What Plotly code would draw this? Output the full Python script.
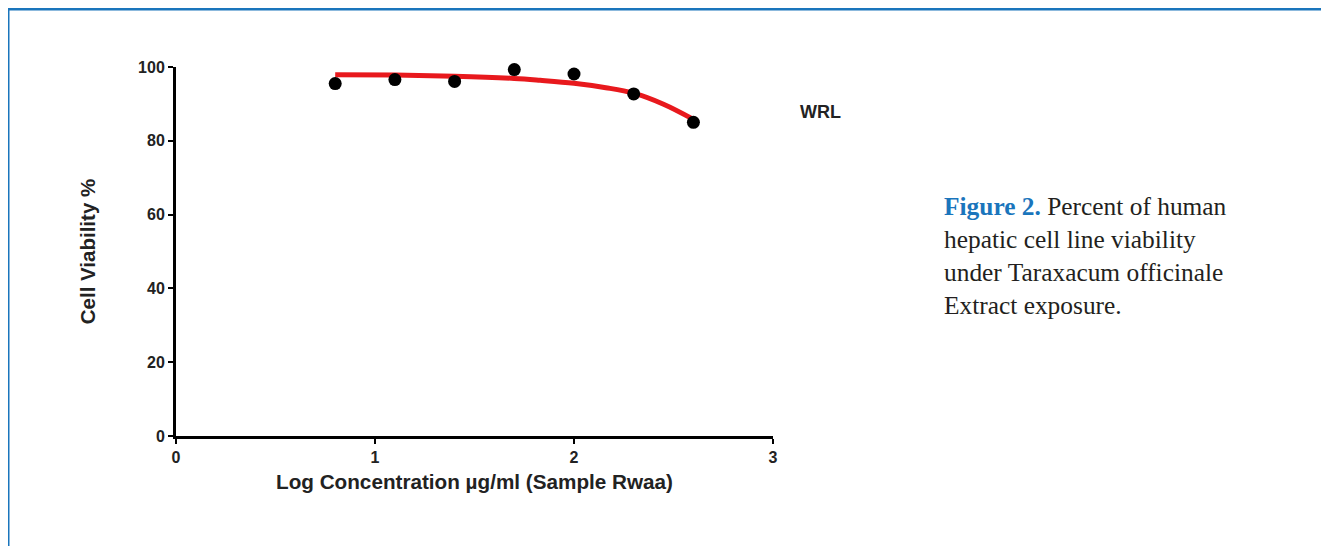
import plotly.graph_objects as go

# Data
log_conc = [0.8, 1.1, 1.4, 1.7, 2.0, 2.3, 2.6]
viability = [95.5, 96.6, 96.1, 99.3, 98.1, 92.7, 85.0]

fit_x = [0.8, 1.1, 1.4, 1.7, 1.83, 2.0, 2.16, 2.3, 2.45, 2.6]
fit_y = [97.9, 97.8, 97.5, 96.9, 96.4, 95.6, 94.4, 92.9, 89.9, 85.8]

x_ticks = [0, 1, 2, 3]
y_ticks = [0, 20, 40, 60, 80, 100]

# page is offset by the 8px default body margin
OFF = 8
W, H = 1329 - OFF, 546 - OFF
L, R, T, B = 176, 773, 67, 436
pw, ph = R - L, B - T


def px(x):
    return (x - L) / pw


def py(y):
    return (B - y) / ph


SANS = "Liberation Sans, Arial, sans-serif"
SERIF = "Liberation Serif, Times New Roman, serif"

fig = go.Figure()
fig.add_trace(go.Scatter(x=fit_x, y=fit_y, mode="lines",
                         line=dict(color="#e8191d", width=5, shape="spline", smoothing=1.0),
                         hoverinfo="skip", showlegend=False))
fig.add_trace(go.Scatter(x=log_conc, y=viability, mode="markers",
                         marker=dict(color="black", size=13),
                         showlegend=False, cliponaxis=False))

tick_font = dict(family=SANS, size=16, color="#222", weight="bold")
fig.update_layout(
    width=W, height=H,
    margin=dict(l=L - OFF, r=1329 - R, t=T - OFF, b=546 - B),
    paper_bgcolor="white", plot_bgcolor="white",
    font=dict(family=SANS),
    xaxis=dict(range=[0, 3], tickvals=x_ticks, ticks="outside", ticklen=5, tickwidth=2,
               tickcolor="black",
               showline=True, linewidth=3, linecolor="black", showgrid=False, zeroline=False,
               tickfont=tick_font,
               title=dict(text="Log Concentration µg/ml (Sample Rwaa)",
                          font=dict(family=SANS, size=20.7, color="#222", weight="bold"),
                          standoff=10)),
    yaxis=dict(range=[0, 100], tickvals=y_ticks, ticks="outside", ticklen=5, tickwidth=2,
               tickcolor="black",
               showline=True, linewidth=3, linecolor="black", showgrid=False, zeroline=False,
               tickfont=tick_font,
               title=dict(text="Cell Viability %",
                          font=dict(family=SANS, size=20.5, color="#222", weight="bold"),
                          standoff=37)),
)

# Blue frame (top and left edges visible)
blue = "#1a75bc"
fig.add_shape(type="line", xref="paper", yref="paper",
              x0=px(6), x1=px(1340), y0=py(9), y1=py(9),
              line=dict(color=blue, width=3))
fig.add_shape(type="line", xref="paper", yref="paper",
              x0=px(8), x1=px(8), y0=py(8), y1=py(560),
              line=dict(color=blue, width=3))

fig.add_annotation(text="WRL", xref="paper", yref="paper",
                   x=px(820), y=py(112), xanchor="center", yanchor="middle",
                   showarrow=False,
                   font=dict(size=18, color="#222", family=SANS, weight="bold"))

caption = ("<b><span style='color:#1a75bc'>Figure 2.</span></b> Percent of human<br>"
           "hepatic cell line viability<br>"
           "under Taraxacum officinale<br>"
           "Extract exposure.")
fig.add_annotation(text=caption, xref="paper", yref="paper",
                   x=px(942), y=py(190), xanchor="left", yanchor="top",
                   align="left", showarrow=False,
                   font=dict(size=25.4, color="#231f20", family=SERIF))

fig.write_html("out.html")
